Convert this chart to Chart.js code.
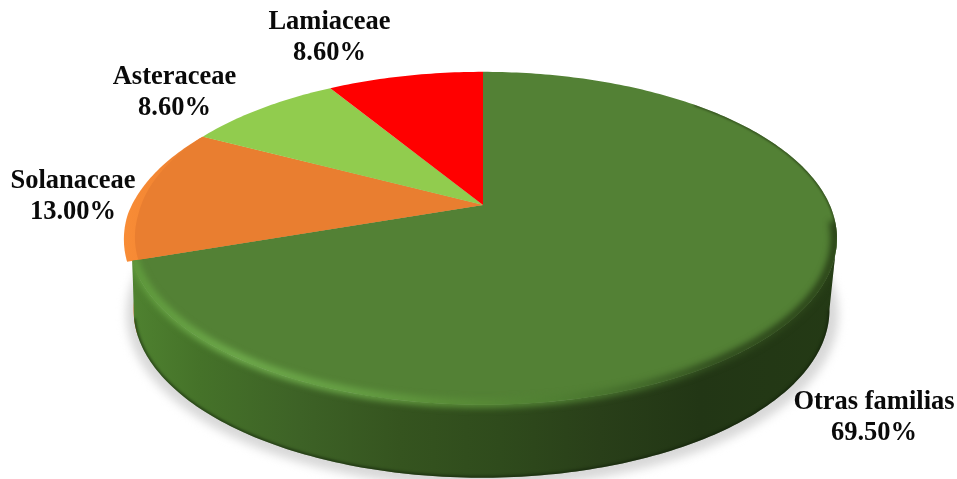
<!DOCTYPE html>
<html>
<head>
<meta charset="utf-8">
<style>
html, body { margin: 0; padding: 0; background: #fff; }
canvas { display: block; }
</style>
<script src="https://cdn.jsdelivr.net/npm/chart.js@4"></script>
</head>
<body>
<canvas id="pieCanvas" width="957" height="479"></canvas>
<script>
const familias = ['Otras familias', 'Solanaceae', 'Asteraceae', 'Lamiaceae'];
const porcentajes = [69.5, 13.0, 8.6, 8.6];
const colores = ['#538135', '#e97e30', '#91cc4e', '#ff0000'];
const etiquetasX = [874, 73, 174.5, 329.5];
const etiquetasY = [402, 181, 77, 22];

// Geometria de la vista en perspectiva
const cx = 483, cy = 205, k = 0.2, Rx = 346.8, Ry = 159.8;
const topCy = 238.5, topRx = 354, topRy = 166.5;
const baseCx = 481.5, baseCy = 310, baseRx = 348, baseRy = 168;
const inicioPared = 0.2; // angulo donde la tapa es mas ancha

function tapa(a, r) {
    const u = r * Math.cos(a), v = r * Math.sin(a), w = 1 - k * v;
    return [cx + Rx * u / w, cy + Ry * v / w];
}

function base(a) {
    const p = tapa(a, 1);
    return [baseCx + (p[0] - cx) * baseRx / topRx, baseCy + (p[1] - topCy) * baseRy / topRy];
}

function arco(ctx, fn, a0, a1, r, mover) {
    const n = Math.max(2, Math.ceil(Math.abs(a1 - a0) * 60));
    for (let i = 0; i <= n; i++) {
        const a = a0 + (a1 - a0) * i / n;
        const p = fn(a, typeof r === 'function' ? r(a) : r);
        if (i === 0 && mover) ctx.moveTo(p[0], p[1]);
        else ctx.lineTo(p[0], p[1]);
    }
}

function pathPorcion(ctx, a0, a1, r) {
    ctx.beginPath();
    ctx.moveTo(cx, cy);
    arco(ctx, tapa, a0, a1, r, false);
    ctx.closePath();
}

// a1b permite que el pie de la pared llegue un poco mas lejos que su borde superior
function pathPared(ctx, a0, a1, a1b) {
    ctx.beginPath();
    arco(ctx, tapa, a0, a1, 1, true);
    arco(ctx, base, a1b, a0, 1, false);
    ctx.closePath();
}

function gradienteX(ctx, stops) {
    const g = ctx.createLinearGradient(125, 0, 840, 0);
    stops.forEach(s => g.addColorStop((s[0] - 125) / 715, s[1]));
    return g;
}

const pastel3d = {
    id: 'pastel3d',
    beforeDatasetDraw(chart) {
        const ctx = chart.ctx;
        const arcs = chart.getDatasetMeta(0).data;
        const verde = arcs[0], naranja = arcs[1];
        const a0 = verde.startAngle, a1 = verde.endAngle;
        const n0 = naranja.startAngle, n1 = naranja.endAngle;
        // el borde claro de la porcion naranja se pierde hacia arriba
        const fadeN = a => Math.max(0, Math.min(1, (n1 - a) / (n1 - n0) * 1.5));

        ctx.save();

        // Sombra bajo el pastel
        ctx.save();
        ctx.filter = 'blur(5px)';
        ctx.fillStyle = '#d8d8d8';
        ctx.beginPath();
        ctx.ellipse(baseCx + 1, baseCy + 4, baseRx + 8, baseRy + 5, 0, 0, Math.PI * 2);
        ctx.fill();
        ctx.restore();

        // Pared naranja
        const finN = Math.min(n1, Math.PI + 0.1);
        pathPared(ctx, n0 - 0.02, finN, finN);
        ctx.fillStyle = '#e2762a';
        ctx.fill();

        // Pared verde
        pathPared(ctx, inicioPared, a1, a1 + 0.08);
        ctx.fillStyle = gradienteX(ctx, [
            [130, '#4f8230'], [200, '#457229'], [300, '#3d6226'], [400, '#35541f'],
            [500, '#2f4b1c'], [600, '#293f19'], [700, '#223615'], [840, '#243a15']
        ]);
        ctx.fill();

        // Borde inferior oscuro
        ctx.save();
        pathPared(ctx, inicioPared, a1, a1 + 0.08);
        ctx.clip();
        ctx.filter = 'blur(1.5px)';
        ctx.beginPath();
        arco(ctx, base, inicioPared, a1 + 0.08, 1, true);
        ctx.strokeStyle = 'rgba(16, 30, 8, 0.7)';
        ctx.lineWidth = 3;
        ctx.stroke();
        ctx.restore();

        // Tapa: borde claro de la porcion naranja y luego las porciones
        pathPorcion(ctx, n0, n1, a => 1 + 0.014 * fadeN(a));
        const claro = ctx.createLinearGradient(125, 0, 205, 0);
        claro.addColorStop(0, '#f88c36');
        claro.addColorStop(0.35, '#f48733');
        claro.addColorStop(1, '#e97e30');
        ctx.fillStyle = claro;
        ctx.fill();

        arcs.forEach((arc, i) => {
            const r = i === 1 ? (a => 1 - 0.016 * fadeN(a)) : 1;
            pathPorcion(ctx, arc.startAngle, arc.endAngle, r);
            ctx.fillStyle = arc.options.backgroundColor;
            ctx.fill();
        });

        // Bisel de la porcion verde, recortado a tapa + pared
        ctx.save();
        ctx.beginPath();
        ctx.moveTo(cx, cy);
        arco(ctx, tapa, a0, a1, 1, false);
        ctx.closePath();
        arco(ctx, tapa, inicioPared, a1, 1, true);
        arco(ctx, base, a1 + 0.08, inicioPared, 1, false);
        ctx.closePath();
        ctx.clip('nonzero');

        ctx.filter = 'blur(3px)';
        ctx.beginPath();
        arco(ctx, tapa, inicioPared - 0.1, a1 + 0.03, 0.995, true);
        ctx.strokeStyle = gradienteX(ctx, [
            [130, '#5f9a3c'], [240, '#6fab4c'], [350, '#67a145'], [450, '#5a8e38'],
            [560, '#4f7e32'], [640, '#42692a'], [720, '#2f4a1d'], [838, '#2a4218']
        ]);
        ctx.lineWidth = 9;
        ctx.stroke();

        // Linea oscura fina arriba a la derecha
        ctx.filter = 'blur(1px)';
        ctx.beginPath();
        arco(ctx, tapa, -0.8, inicioPared, 1, true);
        ctx.strokeStyle = '#2c4419';
        ctx.lineWidth = 2;
        ctx.stroke();
        ctx.restore();

        // Etiquetas
        ctx.fillStyle = '#0a0a0a';
        ctx.font = 'bold 26.5px "Liberation Serif"';
        ctx.textAlign = 'center';
        ctx.textBaseline = 'middle';
        familias.forEach((nombre, i) => {
            ctx.fillText(nombre, etiquetasX[i], etiquetasY[i]);
            ctx.fillText(porcentajes[i].toFixed(2) + '%', etiquetasX[i], etiquetasY[i] + 31);
        });

        ctx.restore();
        return false; // la tapa ya esta dibujada
    }
};

new Chart(document.getElementById('pieCanvas'), {
    type: 'pie',
    data: {
        labels: familias,
        datasets: [{ data: porcentajes, backgroundColor: colores, borderWidth: 0 }]
    },
    options: {
        responsive: false,
        animation: false,
        plugins: { legend: { display: false }, tooltip: { enabled: false } }
    },
    plugins: [pastel3d]
});
</script>
</body>
</html>
